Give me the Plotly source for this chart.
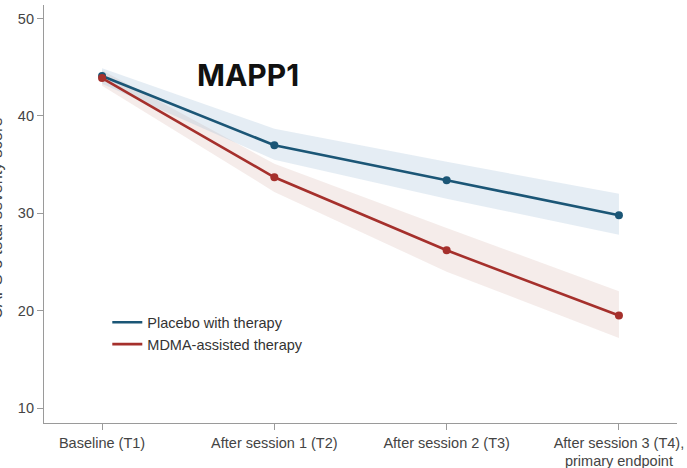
import plotly.graph_objects as go

timepoints = ["Baseline (T1)", "After session 1 (T2)", "After session 2 (T3)",
              "After session 3 (T4),<br>primary endpoint"]
placebo_mean = [44.1, 37.0, 33.4, 29.8]
placebo_lo = [43.3, 35.5, 31.5, 27.8]
placebo_hi = [44.9, 38.7, 35.3, 32.0]
mdma_mean = [43.9, 33.7, 26.2, 19.5]
mdma_lo = [43.1, 32.2, 24.0, 17.2]
mdma_hi = [44.7, 35.1, 28.5, 22.0]

xs = list(range(len(timepoints)))
BLUE = "#1b5676"
RED = "#a5302c"

fig = go.Figure()

def band(lo, hi, color):
    fig.add_trace(go.Scatter(
        x=xs + xs[::-1], y=hi + lo[::-1], fill="toself", fillcolor=color,
        line=dict(width=0), mode="lines", hoverinfo="skip", showlegend=False))

band(mdma_lo, mdma_hi, "rgba(205,160,150,0.2)")
band(placebo_lo, placebo_hi, "rgba(150,185,210,0.25)")

for name, vals, col in [("Placebo with therapy", placebo_mean, BLUE),
                        ("MDMA-assisted therapy", mdma_mean, RED)]:
    fig.add_trace(go.Scatter(x=xs, y=vals, mode="lines+markers", name=name,
                             showlegend=False,
                             line=dict(color=col, width=2.6),
                             marker=dict(color=col, size=8)))
    fig.add_trace(go.Scatter(x=[None], y=[None], mode="lines", name=name,
                             line=dict(color=col, width=2.6)))

axis_common = dict(showline=True, linecolor="#9a9a9a", linewidth=1.2,
                   ticks="outside", tickcolor="#9a9a9a", ticklen=6,
                   showgrid=False, zeroline=False, automargin=False,
                   tickfont=dict(family="Liberation Sans, Arial", size=14.5, color="#444"))

fig.update_layout(
    width=687, height=468,
    margin=dict(l=44, r=10, t=5, b=45),
    paper_bgcolor="white", plot_bgcolor="white",
    xaxis=dict(range=[-0.337, 3.337], tickvals=xs, ticktext=timepoints, **axis_common),
    yaxis=dict(range=[8.46, 51.4], tickvals=[10, 20, 30, 40, 50], **axis_common),
    legend=dict(x=0.1, y=0.279, xanchor="left", yanchor="top",
                font=dict(family="Liberation Sans, Arial", size=14.5, color="#333"),
                bgcolor="rgba(0,0,0,0)", tracegroupgap=0, itemwidth=30),
    annotations=[
        dict(text="<b>MAPP1</b>", xref="paper", yref="paper",
             x=(248 - 44) / 633, y=(423 - 75) / 418, xanchor="center",
             yanchor="middle", showarrow=False,
             font=dict(family="Inter, Open Sans", size=30, color="#111")),
        dict(text="CAPS-5 total severity score", xref="paper", yref="paper",
             x=-48 / 633, xanchor="center", y=0.49, yanchor="middle",
             textangle=-90, showarrow=False,
             font=dict(family="Liberation Sans, Arial", size=16.5, color="#444")),
    ],
)

fig.write_html("out.html", post_script="document.body.style.margin='0';",
               config={"displayModeBar": False})
